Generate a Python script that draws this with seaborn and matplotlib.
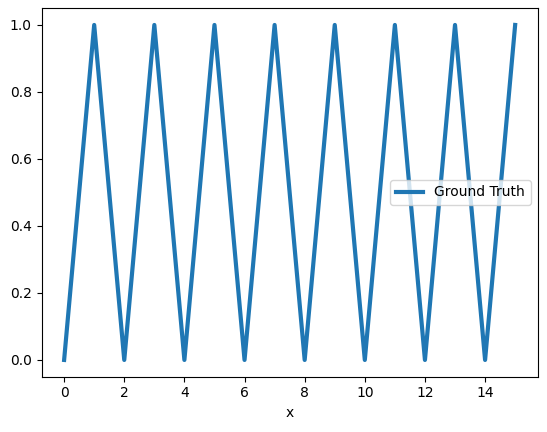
import matplotlib
matplotlib.use("Agg")
import matplotlib.pyplot as plt
import seaborn as sns
import pandas as pd

# triangle wave samples
x_values = [0, 1, 2, 3, 4, 5, 6, 7, 8, 9, 10, 11, 12, 13, 14, 15]
y_values = [0, 1, 0, 1, 0, 1, 0, 1, 0, 1, 0, 1, 0, 1, 0, 1]

df = pd.DataFrame({"x": x_values, "Ground Truth": y_values})

fig, ax = plt.subplots(figsize=(5.47, 4.32), dpi=100)
fig.subplots_adjust(left=0.076, right=0.983, top=0.981, bottom=0.128)

sns.lineplot(data=df, x="x", y="Ground Truth", ax=ax, linewidth=3,
             color="#1f77b4", label="Ground Truth")
ax.set_ylabel("")
ax.set_xlabel("x")
ax.legend(loc="center right")

fig.savefig("out.png", dpi=100)
